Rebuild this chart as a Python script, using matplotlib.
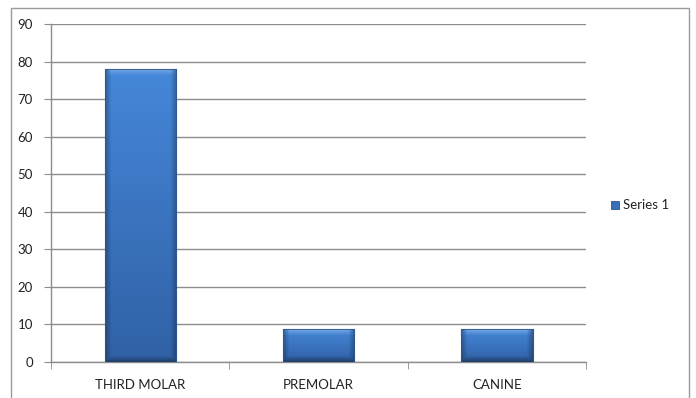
import numpy as np
import matplotlib.pyplot as plt
from matplotlib.patches import Rectangle

plt.rcParams['font.family'] = ['Lato', 'DejaVu Sans']

# dane
categories = ['THIRD MOLAR', 'PREMOLAR', 'CANINE']
values = [78, 8.7, 8.7]
series_name = 'Series 1'

W, H = 696, 398
fig = plt.figure(figsize=(W / 100, H / 100), dpi=100)

# ramka wokół całego wykresu
fig.patches.append(Rectangle((11 / W, -0.02), (689 - 11) / W, 1.02 - 8 / H,
                             transform=fig.transFigure, fill=False,
                             edgecolor='#9a9a9a', linewidth=1.0))

ax = fig.add_axes([51 / W, (H - 362) / H, (586 - 51) / W, (362 - 24) / H])

x = np.arange(len(categories))
bars = ax.bar(x, values, width=0.40, color='#3b74c0', edgecolor='#2c578f',
              linewidth=0.8, zorder=3)

ax.set_xlim(-0.5, len(categories) - 0.5)
ax.set_ylim(0, 90)


def bevel_image(w_px, h_px, bevel=6):
    # kolor bazowy: jaśniej u góry, ciemniej na dole
    top = np.array([0.27, 0.53, 0.85])
    bot = np.array([0.19, 0.38, 0.65])
    yy = np.linspace(0, 1, h_px)[:, None, None]   # 0 = góra
    img = top * (1 - yy) + bot * yy
    img = np.broadcast_to(img, (h_px, w_px, 3)).copy()
    xs = np.arange(w_px)
    ys = np.arange(h_px)
    dl = np.minimum(xs, w_px - 1 - xs)[None, :]
    db = (h_px - 1 - ys)[:, None]
    dt = ys[:, None]
    # przyciemnienie boków i dołu, rozjaśnienie góry
    side = np.clip(1 - dl / bevel, 0, 1)
    bottom = np.clip(1 - db / bevel, 0, 1)
    topl = np.clip(1 - dt / bevel, 0, 1)
    dark = np.maximum(side * 0.28, bottom * 0.35)
    img = img * (1 - dark[..., None])
    img = img + (1 - img) * (topl[..., None] * 0.25) * (1 - side[..., None])
    return np.clip(img, 0, 1)


# gradient na słupkach
fig.canvas.draw()
for b in bars:
    x0, y0 = b.get_x(), b.get_y()
    w, h = b.get_width(), b.get_height()
    p0 = ax.transData.transform((x0, y0))
    p1 = ax.transData.transform((x0 + w, y0 + h))
    w_px = max(int(round(p1[0] - p0[0])), 2)
    h_px = max(int(round(p1[1] - p0[1])), 2)
    im = ax.imshow(bevel_image(w_px, h_px), origin='upper', aspect='auto',
                   interpolation='bilinear',
                   extent=(x0, x0 + w, y0, y0 + h), zorder=3.5)
    im.set_clip_path(b)
    ax.add_patch(Rectangle((x0, y0), w, h, fill=False, edgecolor='#2c578f',
                           linewidth=0.6, zorder=4))

ax.set_yticks(np.arange(0, 91, 10))
ax.set_xticks(x)
ax.set_xticklabels(categories)
ax.set_xticks(np.arange(-0.5, len(categories), 1), minor=True)

ax.yaxis.grid(True, color='#8c8c8c', linewidth=1.0, zorder=0)
ax.set_axisbelow(True)
for s in ['top', 'right']:
    ax.spines[s].set_visible(False)
for s in ['left', 'bottom']:
    ax.spines[s].set_color('#8c8c8c')
    ax.spines[s].set_linewidth(1.0)

ax.tick_params(axis='y', length=5, color='#8c8c8c', labelsize=9.5,
               labelcolor='#222222', pad=8)
ax.tick_params(axis='x', which='major', length=0, labelsize=9.5,
               labelcolor='#222222', pad=12)
ax.tick_params(axis='x', which='minor', length=5, color='#8c8c8c')

ax.set_xlim(-0.5, len(categories) - 0.5)
ax.set_ylim(0, 90)

# legenda
fig.patches.append(Rectangle((611 / W, (H - 209) / H), 8 / W, 8 / H,
                             transform=fig.transFigure, facecolor='#3a70b8',
                             edgecolor='#2c578f', linewidth=0.6))
fig.text(623 / W, (H - 205) / H, series_name, fontsize=9.5, color='#222222',
         va='center', ha='left')

fig.savefig('out.png', dpi=100)
